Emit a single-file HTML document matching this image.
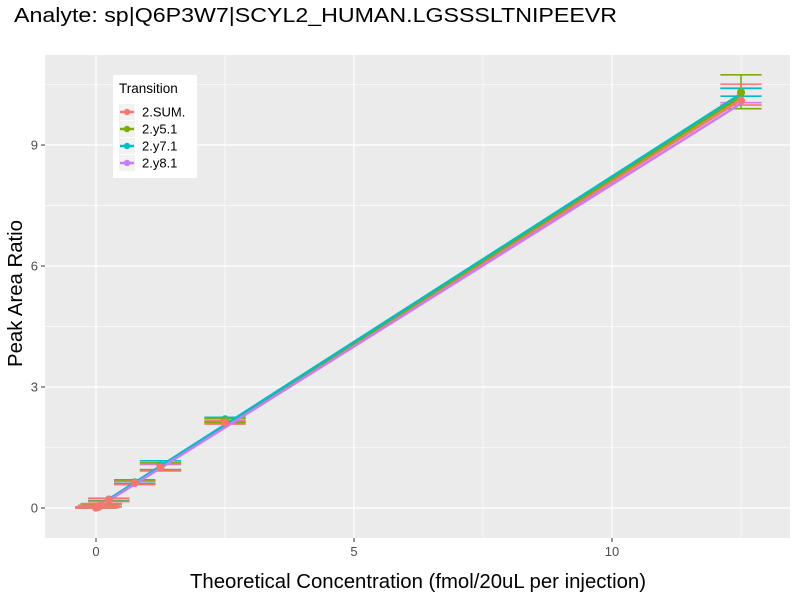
<!DOCTYPE html>
<html><head><meta charset="utf-8"><style>
body{margin:0;background:#fff;}
svg text{font-family:"Liberation Sans",Arial,sans-serif;}
</style></head><body>
<svg id="c" width="800" height="600" xmlns="http://www.w3.org/2000/svg">
<text x="14" y="22" font-size="20" textLength="603" lengthAdjust="spacingAndGlyphs" fill="#000">Analyte: sp|Q6P3W7|SCYL2_HUMAN.LGSSSLTNIPEEVR</text>
<rect x="45" y="55" width="745" height="483" fill="#ebebeb"/>
<g id="grid"></g><g id="marks"></g><g id="axes"></g>
<text x="190" y="588" font-size="20" textLength="456" lengthAdjust="spacingAndGlyphs">Theoretical Concentration (fmol/20uL per injection)</text>
<text transform="translate(22,367) rotate(-90)" font-size="20" textLength="147" lengthAdjust="spacingAndGlyphs">Peak Area Ratio</text>
<g id="legend">
<rect x="113" y="75" width="84" height="103" fill="#fff"/>
<text x="119" y="93" font-size="13.5">Transition</text>
</g>
</svg>
<script>
const seriesNames=["2.SUM.","2.y5.1","2.y7.1","2.y8.1"];
const colors=["#F8766D","#7CAE00","#00BFC4","#C77CFF"];
const concentrations=[0,0.05,0.1,0.25,0.75,1.25,2.5,12.5];
const meanSUM=[0.01,0.03,0.07,0.2,0.62,1.0,2.12,10.1];
const lowSUM=[0,0.01,0.03,0.16,0.58,0.92,2.08,9.99];
const highSUM=[0.03,0.06,0.11,0.23,0.66,1.1,2.16,10.51];
const meanY5=[0.01,0.03,0.07,0.2,0.63,1.02,2.17,10.3];
const lowY5=[0,0.01,0.04,0.17,0.6,0.95,2.12,9.9];
const highY5=[0.03,0.06,0.1,0.23,0.68,1.12,2.22,10.74];
const meanY7=[0.01,0.03,0.07,0.21,0.64,1.05,2.2,10.3];
const lowY7=[0,0.01,0.04,0.18,0.61,0.94,2.15,10.21];
const highY7=[0.03,0.06,0.1,0.24,0.7,1.17,2.25,10.41];
const meanY8=[0.01,0.03,0.07,0.2,0.62,1.0,2.12,10.1];
const lowY8=[0,0.01,0.03,0.17,0.59,0.95,2.09,10.05];
const highY8=[0.03,0.06,0.1,0.23,0.66,1.08,2.17,10.4];
const fitStart=[0.2,0.21,0.22,0.19];
const fitEnd=[10.12,10.2,10.27,10.03];
const xTicks=[0,5,10];
const yTicks=[0,3,6,9];
const xMinor=[2.5,7.5,12.5];
const yMinor=[1.5,4.5,7.5,10.5];
const X=v=>96+v*51.6, Y=v=>508-v*40.33;
const NS="http://www.w3.org/2000/svg";
function mk(tag,attrs,parent){const e=document.createElementNS(NS,tag);for(const k in attrs)e.setAttribute(k,attrs[k]);parent.appendChild(e);return e;}
const grid=document.getElementById('grid'),marks=document.getElementById('marks'),axes=document.getElementById('axes');
xMinor.forEach(v=>{const l=mk('line',{x1:X(v),x2:X(v),y1:55,y2:538,stroke:'#fff','stroke-width':0.6},grid);});
yMinor.forEach(v=>{const l=mk('line',{x1:45,x2:790,y1:Y(v),y2:Y(v),stroke:'#fff','stroke-width':0.6},grid);});
xTicks.forEach(v=>{const l=mk('line',{x1:X(v),x2:X(v),y1:55,y2:538,stroke:'#fff','stroke-width':1.2},grid);
 const t=mk('line',{x1:X(v),x2:X(v),y1:538,y2:542,stroke:'#333'},axes);
 const tx=mk('text',{x:X(v),y:556,'font-size':13,'text-anchor':'middle',fill:'#4d4d4d'},axes);tx.textContent=v;});
yTicks.forEach(v=>{const l=mk('line',{x1:45,x2:790,y1:Y(v),y2:Y(v),stroke:'#fff','stroke-width':1.2},grid);
 const t=mk('line',{x1:41,x2:45,y1:Y(v),y2:Y(v),stroke:'#333'},axes);
 const tx=mk('text',{x:38,y:Y(v)+4.5,'font-size':13,'text-anchor':'end',fill:'#4d4d4d'},axes);tx.textContent=v;});
const means=[meanSUM,meanY5,meanY7,meanY8],lows=[lowSUM,lowY5,lowY7,lowY8],highs=[highSUM,highY5,highY7,highY8];
for(let s=3;s>=0;s--){
 const c=colors[s];
 concentrations.forEach((x,i)=>{
  const g=mk('g',{stroke:c,'stroke-width':1.6,fill:'none'},marks);
  
  mk('line',{x1:X(x-0.4),x2:X(x+0.4),y1:Y(lows[s][i]),y2:Y(lows[s][i])},g);
  mk('line',{x1:X(x-0.4),x2:X(x+0.4),y1:Y(highs[s][i]),y2:Y(highs[s][i])},g);
  mk('line',{x1:X(x),x2:X(x),y1:Y(lows[s][i]),y2:Y(highs[s][i])},g);
 });
}
for(let s=0;s<4;s++){
 const l=mk('line',{x1:X(0.25),y1:Y(fitStart[s]),x2:X(12.5),y2:Y(fitEnd[s]),stroke:colors[s],'stroke-width':2.5},marks);
 
}
for(let s=3;s>=0;s--){
 concentrations.forEach((x,i)=>{
  const p=mk('circle',{cx:X(x),cy:Y(means[s][i]),r:4,fill:colors[s]},marks);
  
 });
}
const lg=document.getElementById('legend');
seriesNames.forEach((n,i)=>{
 const y=112+i*17;
 const g=mk('g',{},lg);
 mk('rect',{x:119,y:y-8,width:16,height:16,fill:'#f2f2f2'},g);
 mk('line',{x1:120,x2:134,y1:y,y2:y,stroke:colors[i],'stroke-width':2.5},g);
 mk('circle',{cx:127,cy:y,r:3.2,fill:colors[i]},g);
 const t=mk('text',{x:142,y:y+4.5,'font-size':13},g);t.textContent=n;
});
</script>
</body></html>
